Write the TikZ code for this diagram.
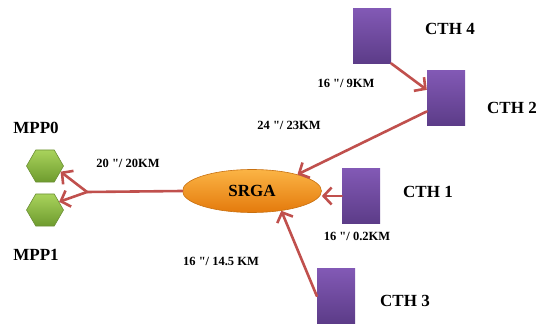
\documentclass[tikz,border=0pt]{standalone}
\usepackage{fontspec}
\setmainfont{Liberation Serif}
\newfontfamily\distfamily{Liberation Serif}[Ligatures=TeXOff]
\usetikzlibrary{arrows.meta,shapes.geometric}

\definecolor{linkred}{HTML}{C0504D}
\definecolor{cthtop}{HTML}{8259B5}
\definecolor{cthbot}{HTML}{5C3C88}
\definecolor{mpptop}{HTML}{A9D35C}
\definecolor{mppbot}{HTML}{6E9B2E}
\definecolor{mppline}{HTML}{6B8F35}
\definecolor{srgatop}{HTML}{FBB445}
\definecolor{srgabot}{HTML}{E47A0C}
\definecolor{srgaline}{HTML}{C8700F}

\begin{document}
\begin{tikzpicture}[
  x=1pt, y=-1pt,
  cth/.style={top color=cthtop, bottom color=cthbot, minimum width=38pt, minimum height=55pt, inner sep=0pt},
  mpp/.style={regular polygon, regular polygon sides=6, minimum size=37pt, inner sep=0pt,
    draw=mppline, line width=0.6pt, top color=mpptop, bottom color=mppbot},
  link/.style={draw=linkred, line width=2.6pt, line cap=round},
  linkarrow/.style={link, -{Straight Barb[length=8pt,width=17pt]}},
  sitename/.style={font=\fontsize{17}{17}\selectfont\bfseries},
  dist/.style={font=\distfamily\fontsize{12.5}{13}\selectfont\bfseries}
  ]

\useasboundingbox (0,0) rectangle (542,329);

% hub
\node[ellipse, minimum width=139pt, minimum height=43pt, inner sep=0pt, draw=srgaline, line width=0.6pt,
  top color=srgatop, bottom color=srgabot, font=\fontsize{17}{17}\selectfont\bfseries] (srga) at (252,191) {SRGA};

% stations
\node[cth] (cth4) at (372,36) {};
\node[cth] (cth2) at (446,98) {};
\node[cth] (cth1) at (361,196) {};
\node[cth] (cth3) at (336,296) {};
\node[mpp] (mpp0) at (45,166) {};
\node[mpp] (mpp1) at (45,210) {};
\coordinate (split) at (87,192);

% names
\node[sitename] (cth4name) at (450,29) {CTH 4};
\node[sitename] (cth2name) at (512,108) {CTH 2};
\node[sitename] (cth1name) at (428,192) {CTH 1};
\node[sitename] (cth3name) at (405,301) {CTH 3};
\node[sitename] (mpp0name) at (36,128) {MPP0};
\node[sitename] (mpp1name) at (36,255) {MPP1};

% pipes
\draw[linkarrow] (cth4.-55) -- (cth2.157);
\draw[linkarrow] (cth2.-145) -- (srga.20);
\draw[linkarrow] (cth1.west) -- (cth1.west -| srga.east);
\draw[linkarrow] (cth3.west) -- (srga.-34);
\draw[link] (srga.west) -- (split);
\draw[linkarrow] (split) -- (mpp0.-20);
\draw[linkarrow] (split) -- (mpp1.30);

% lengths
\node[dist] (d42) at (346,83) {16 "/ 9KM};
\node[dist] (d2s) at (289,125) {24 "/ 23KM};
\node[dist] (dsm) at (128,163) {20 "/ 20KM};
\node[dist] (d1s) at (357,236) {16 "/ 0.2KM};
\node[dist] (d3s) at (221,261) {16 "/ 14.5 KM};

\end{tikzpicture}
\end{document}
